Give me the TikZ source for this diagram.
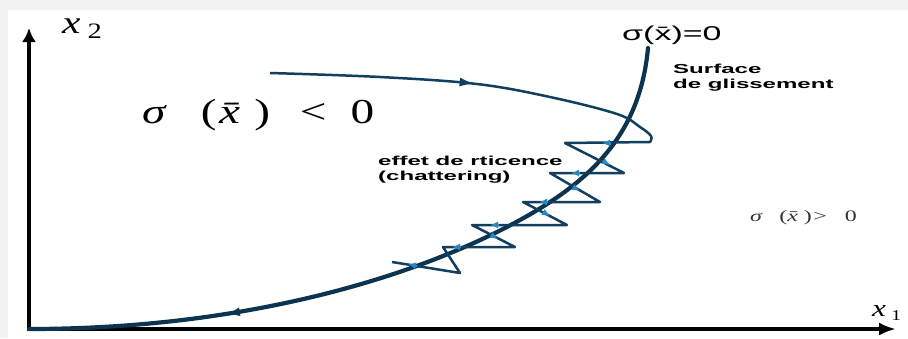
\documentclass[tikz,border=0pt]{standalone}
\usepackage{fontspec}
\setmainfont{Liberation Serif}
\newfontfamily\sansf{Liberation Sans}
\usepackage{graphicx}
\usetikzlibrary{arrows.meta,decorations.markings}
\definecolor{navy}{HTML}{0C3350}
\definecolor{zig}{HTML}{123F60}
\definecolor{lblue}{HTML}{2A88C0}
\definecolor{bggray}{HTML}{F2F2F2}
\newcommand\hst[2]{\scalebox{#1}[1]{#2}}
\begin{document}
\begin{tikzpicture}[x=1pt,y=-1pt,
  axis/.style={line width=3.5pt,black},
  surf/.style={line width=4.2pt,navy,line cap=round,line join=round},
  traj/.style={line width=2.5pt,zig,line join=round},
  tick/.style={lblue,line width=1.8pt,-{Latex[length=8pt,width=7pt]}},
  lbl/.style={inner sep=0pt},
  sanslbl/.style={inner sep=0pt,align=left,anchor=north west,font=\sansf\bfseries\fontsize{13}{15}\selectfont}]
\fill[bggray] (0,0) rectangle (908,338);
\fill[white] (8,10) rectangle (908,338);
\useasboundingbox (0,0) rectangle (908,338);
% axes
\coordinate (O) at (29,329);
\coordinate (Y) at (29,28);
\coordinate (X) at (896,329);
\draw[axis,{Latex[length=14pt,width=14pt]}-{Latex[length=17pt,width=13pt]}] (Y) -- (O) -- (X);
% sliding surface / lower trajectory
\coordinate (Stop) at (648,48);
\coordinate (Smid) at (520,220);
\draw[surf,postaction={decorate},decoration={markings,mark=at position 535pt with {\arrow{Latex[length=14pt,width=9pt]}}}]
  (Stop) .. controls (640,135) and (590,181.5) .. (Smid) .. controls (420,275) and (250,329) .. (O);
% upper trajectory with chattering
\draw[traj,postaction={decorate},decoration={markings,mark=at position 205pt with {\arrow{Latex[length=15pt,width=9pt]}}}]
  plot[smooth,tension=0.6] coordinates {(270,73) (380,77) (477,84) (550,97) (617,114) (640,127) (651,136) (650,142)}
  -- (565,143) -- (624,173) -- (550,173) -- (600,202) -- (523,202) -- (567,225) -- (472,225) -- (515,247) -- (443,247) -- (460,273) -- (392,262);
% small light-blue arrow marks
\draw[tick] (611,143) -- (602,143);
\draw[tick] (603,161) -- (610,165);
\draw[tick] (580,173) -- (571,173);
\draw[tick] (573,187) -- (580,191);
\draw[tick] (548,202) -- (539,202);
\draw[tick] (543,212) -- (550,216);
\draw[tick] (499,225) -- (490,225);
\draw[tick] (491,235) -- (498,239);
\draw[tick] (461,247) -- (452,247);
\draw[tick] (417,266) -- (408,264);
% labels
\node[lbl,anchor=base west] (x2) at (62,33) {\hst{1.3}{\fontsize{32}{32}\selectfont\textit{x}\,\raisebox{-5pt}{\fontsize{22}{22}\selectfont 2}}};
\node[lbl,anchor=base west] (x1) at (872,316) {\hst{1.3}{\fontsize{24}{24}\selectfont\textit{x}\,\raisebox{-4pt}{\fontsize{15}{15}\selectfont 1}}};
\node[lbl,anchor=base west] (sneg) at (142,123) {\hst{1.35}{\fontsize{35}{35}\selectfont\textit{σ}\hspace{25pt}(\kern2pt\textit{\=x}\kern2pt)\hspace{22pt}<\hspace{18pt}0}};
\node[lbl,anchor=base west] (spos) at (750,221) {\color{black!80}\hst{1.5}{\fontsize{16}{16}\selectfont\textit{σ}\hspace{11pt}(\textit{\=x})\kern1pt>\hspace{12pt}0}};
\node[lbl,anchor=base west] (szero) at (622,40) {\hst{1.7}{\sansf\fontsize{20}{20}\selectfont σ(\=x)=0}};
\node[sanslbl] (sg) at (673,64) {\hst{1.85}{Surface}\\\hst{1.85}{de glissement}};
\node[sanslbl] (ch) at (378,156) {\hst{1.85}{effet de rticence}\\\hst{1.85}{(chattering)}};
\end{tikzpicture}
\end{document}
